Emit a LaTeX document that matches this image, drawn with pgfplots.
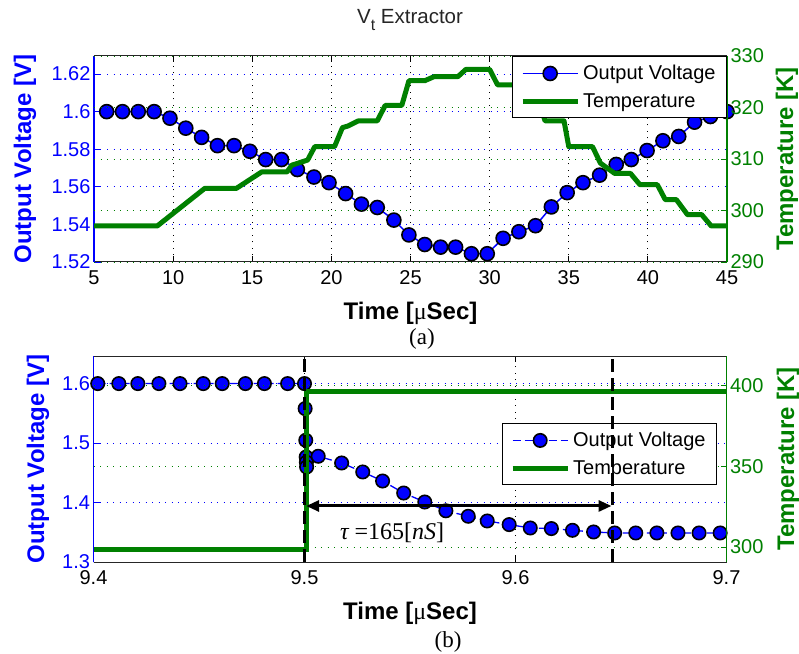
\documentclass[border=0pt]{standalone}
\usepackage{pgfplots}
\pgfplotsset{compat=1.18}
\usetikzlibrary{arrows.meta}
\usepackage{fontspec}
\setmainfont{Liberation Sans}
\newfontfamily\serif{Liberation Serif}
\definecolor{mgreen}{rgb}{0,0.5,0}
\definecolor{mblue}{rgb}{0,0,1}

\pgfplotsset{
  base/.style={scale only axis, width=633pt, height=206pt, anchor=south west,
    /pgf/number format/assume math mode=true,
    tick label style={font=\fontsize{20}{24}\selectfont},
    label style={font=\fontsize{24}{28}\selectfont\bfseries},
    major tick length=6pt,
  },
  leftax/.style={base, axis x line*=box, axis y line*=left, tick align=inside,
    x axis line style={black!85, line width=1pt},
    y axis line style={mblue, line width=1.3pt},
    xtick style={black, line width=0.8pt},
    ytick style={mblue, line width=0.8pt},
    yticklabel style={text=mblue},
    xticklabel style={yshift=-5pt},
    xticklabel pos=lower,
    xmajorgrids, ymajorgrids,
    x grid style={black, line width=0.9pt, dash pattern=on 1pt off 5.5pt},
    y grid style={mblue, line width=0.9pt, dash pattern=on 1pt off 5.5pt},
    ylabel style={mblue},
  },
  rightax/.style={base, axis x line=none, axis y line*=right, tick align=inside,
    y axis line style={mgreen, line width=1.3pt},
    ytick style={mgreen, line width=0.8pt},
    yticklabel style={text=mgreen},
    ymajorgrids,
    y grid style={mgreen, line width=0.9pt, dash pattern=on 1pt off 5.5pt},
    ylabel style={mgreen},
    legend style={draw=black, line width=1pt, fill=white,
      font=\fontsize{20}{24}\selectfont, inner xsep=8pt, inner ysep=6pt,
      row sep=6pt,
      nodes={inner sep=3pt}, cells={anchor=west}},
    legend image code/.code={\draw[mark repeat=2, mark phase=2, #1] plot coordinates {(0pt,0pt) (27.5pt,0pt) (55pt,0pt)};},
  },
}

\begin{document}
\begin{tikzpicture}
\useasboundingbox (0,0) rectangle (799pt,653pt);

% title
\node[font=\fontsize{20.5}{24}\selectfont, text=black!85] at (410pt,633pt) {V\raisebox{-7pt}{\fontsize{16}{18}\selectfont t} Extractor};

% ---------------- panel (a) ----------------
\begin{axis}[leftax, at={(94pt,391pt)},
  xmin=5, xmax=45, ymin=1.52, ymax=1.6296,
  xtick={5,10,15,20,25,30,35,40,45},
  xticklabels={5,10,15,20,25,30,35,40,45},
  ytick={1.52,1.54,1.56,1.58,1.6,1.62},
  yticklabels={1.52,1.54,1.56,1.58,1.6,1.62},
  xlabel={Time [{\serif\mdseries μ}Sec]},
  ylabel={Output Voltage [V]},
  xlabel style={at={(axis description cs:0.5,-0.25)}, anchor=center},
  ylabel style={at={(axis description cs:-0.109,0.5)}, anchor=center},
]
\addplot[mblue, line width=1.5pt, mark=*, mark size=7pt,
  mark options={solid, fill=mblue, draw=black, line width=1.6pt}] coordinates {
(5.8,1.600) (6.8,1.600) (7.8,1.600) (8.8,1.600) (9.8,1.5965) (10.8,1.5912)
(11.8,1.5863) (12.8,1.5819) (13.85,1.5819) (14.85,1.5789) (15.85,1.5745)
(16.85,1.5745) (17.85,1.5692) (18.9,1.5652) (19.85,1.5622) (20.9,1.5564)
(21.9,1.5508) (22.9,1.549) (23.95,1.5423) (24.9,1.5344) (25.9,1.5293)
(26.9,1.5279) (27.85,1.5279) (28.85,1.5244) (29.85,1.5244) (30.85,1.5326)
(31.85,1.5361) (32.9,1.5393) (33.9,1.5493) (34.9,1.5569) (35.9,1.5622)
(36.95,1.5662) (38.0,1.5719) (38.95,1.5745) (39.95,1.5793) (40.95,1.5845)
(41.95,1.5868) (42.95,1.5944) (43.95,1.5974) (45.0,1.600)
};
\end{axis}

\begin{axis}[rightax, at={(94pt,391pt)},
  xmin=5, xmax=45, ymin=290, ymax=330,
  ytick={290,300,310,320,330},
  yticklabels={290,300,310,320,330},
  ylabel={Temperature [K]},
  ylabel style={at={(axis description cs:1.0948,0.5)}, anchor=center},
  legend style={at={(1,1)}, anchor=north east},
]
\addlegendimage{mblue, line width=1.5pt, mark=*, mark size=7pt,
  mark options={solid, fill=mblue, draw=black, line width=1.6pt}}
\addlegendentry{Output Voltage}
\addplot[mgreen, line width=5pt, line join=round] coordinates {
(5,297) (9,297) (12,304.3) (14,304.3) (15.6,307.5) (17.2,307.5) (17.5,308.8)
(18.5,309.8) (18.95,312.4) (20.2,312.4) (20.7,316.1) (21.05,316.4) (21.7,317.4)
(22.9,317.4) (23.4,320.4) (24.45,320.4) (24.9,325.2) (25.9,325.2) (26.5,326)
(28,326) (28.5,327.4) (30,327.4) (30.5,324.4) (32.8,324.4) (33.5,317.4)
(34.7,317.4) (35,312.4) (36.5,312.4) (37,309.2) (37.9,307.2) (38.9,307.2)
(39.5,305) (40.6,305) (41.1,302.1) (41.8,302.1) (42.5,299.2) (43.4,299.2)
(44,297) (45,297)
};
\addlegendentry{Temperature}
\end{axis}

\node[font=\serif\fontsize{23}{27}\selectfont] at (422pt,314pt) {(a)};

% ---------------- panel (b) ----------------
\begin{axis}[leftax, at={(93.5pt,91pt)},
  xmin=9.4, xmax=9.7, ymin=1.3, ymax=1.6464,
  xtick={9.4,9.5,9.6,9.7},
  xticklabels={9.4,9.5,9.6,9.7},
  ytick={1.3,1.4,1.5,1.6},
  yticklabels={1.3,1.4,1.5,1.6},
  xlabel={Time [{\serif\mdseries μ}Sec]},
  ylabel={Output Voltage [V]},
  xlabel style={at={(axis description cs:0.5,-0.248)}, anchor=center},
  ylabel style={at={(axis description cs:-0.0877,0.5)}, anchor=center},
]
\addplot[mblue, line width=1.3pt, dash pattern=on 8pt off 4pt, mark=*, mark size=6.7pt,
  mark options={solid, fill=mblue, draw=black, line width=1.6pt}] coordinates {
(9.402,1.6) (9.412,1.6) (9.421,1.6) (9.431,1.6) (9.441,1.6) (9.452,1.6)
(9.461,1.6) (9.472,1.6) (9.481,1.6) (9.492,1.6) (9.500,1.6)
(9.5003,1.558) (9.5006,1.5047) (9.5008,1.4766) (9.5009,1.4677) (9.5010,1.4598)
(9.5065,1.4778) (9.5176,1.4665) (9.5276,1.4514) (9.537,1.4362) (9.547,1.416)
(9.557,1.4009) (9.567,1.3861) (9.5776,1.3769) (9.5866,1.369) (9.597,1.3629)
(9.607,1.3572) (9.617,1.3562) (9.627,1.3533) (9.637,1.3505) (9.647,1.3488)
(9.657,1.3488) (9.667,1.3488) (9.677,1.3488) (9.687,1.3488) (9.697,1.3488)
};
\end{axis}

\begin{axis}[rightax, at={(93.5pt,91pt)},
  xmin=9.4, xmax=9.7, ymin=290.7, ymax=418.1,
  ytick={300,350,400},
  yticklabels={300,350,400},
  ylabel={Temperature [K]},
  ylabel style={at={(axis description cs:1.097,0.5)}, anchor=center},
  legend style={at={(0.985,0.675)}, anchor=north east},
]
\addlegendimage{mblue, line width=1.3pt, dash pattern=on 8pt off 4pt, mark=*, mark size=6.7pt,
  mark options={solid, fill=mblue, draw=black, line width=1.6pt}}
\addlegendentry{Output Voltage}
\addplot[mgreen, line width=5pt] coordinates {
(9.4,298.4) (9.5008,298.4) (9.5008,395.9) (9.7,395.9)
};
\addlegendentry{Temperature}
\end{axis}

% overlay annotations for panel (b)
\begin{axis}[base, at={(93.5pt,91pt)}, hide axis, clip=false,
  xmin=9.4, xmax=9.7, ymin=1.3, ymax=1.6464]
\addplot[black, line width=3.5pt, dash pattern=on 13pt off 6pt] coordinates {(9.5,1.3) (9.5,1.6464)};
\addplot[black, line width=3.5pt, dash pattern=on 13pt off 6pt] coordinates {(9.646,1.3) (9.646,1.6464)};
\addplot[black, line width=3pt, arrows={Triangle[length=13pt,width=11pt]-Triangle[length=13pt,width=11pt]}] coordinates {(9.5008,1.3942) (9.6455,1.3942)};
\node[font=\serif\fontsize{24}{28}\selectfont] at (axis cs:9.5415,1.349) {{\itshape τ} =165[{\itshape nS}]};
\end{axis}

\node[font=\serif\fontsize{23}{27}\selectfont] at (448pt,11pt) {(b)};
\end{tikzpicture}
\end{document}
